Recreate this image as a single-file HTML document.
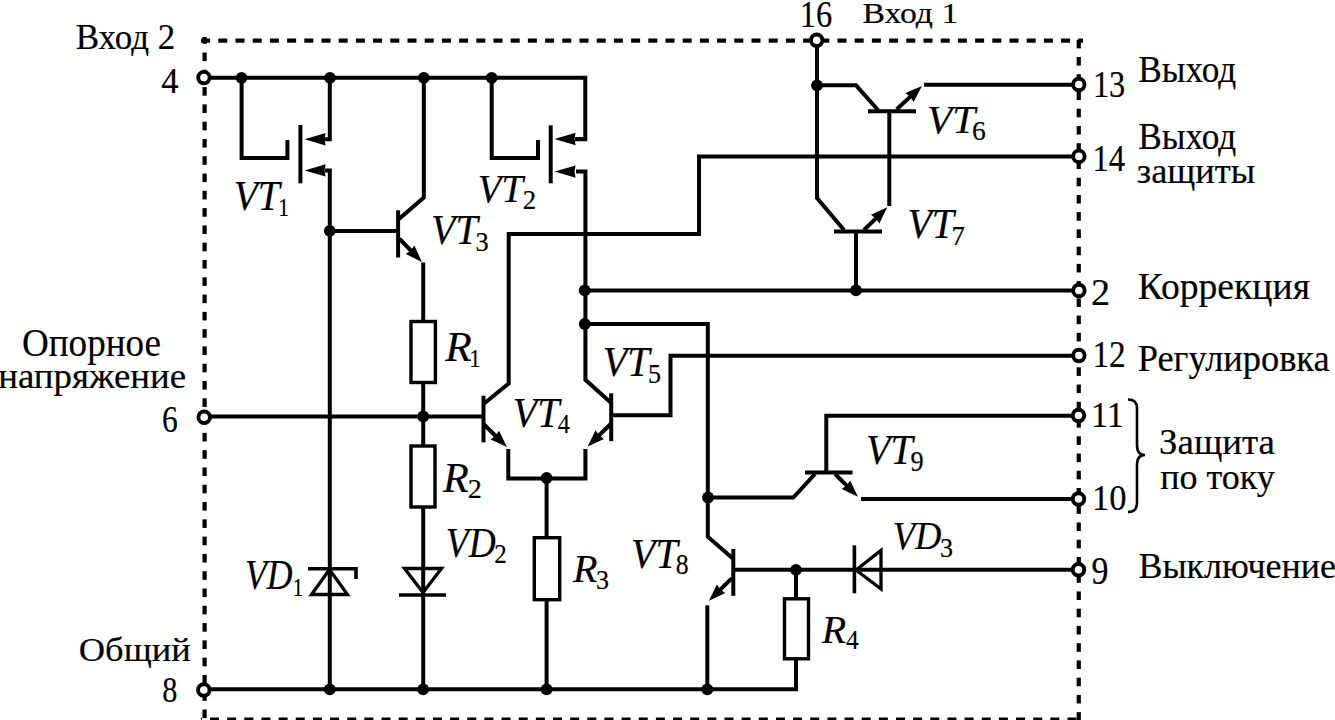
<!DOCTYPE html><html><head><meta charset="utf-8"><style>html,body{margin:0;padding:0;background:#fff;}svg{display:block;}text{font-family:"Liberation Serif",serif;fill:#000;stroke:#000;stroke-width:0.2px;}</style></head><body>
<svg width="1335" height="720" viewBox="0 0 1335 720">
<rect width="1335" height="720" fill="#fff"/>
<rect x="201.10" y="38.50" width="9.00" height="4.2" fill="#000"/>
<rect x="218.30" y="38.50" width="9.00" height="4.2" fill="#000"/>
<rect x="235.50" y="38.50" width="9.00" height="4.2" fill="#000"/>
<rect x="252.70" y="38.50" width="9.00" height="4.2" fill="#000"/>
<rect x="269.90" y="38.50" width="9.00" height="4.2" fill="#000"/>
<rect x="287.10" y="38.50" width="9.00" height="4.2" fill="#000"/>
<rect x="304.30" y="38.50" width="9.00" height="4.2" fill="#000"/>
<rect x="321.50" y="38.50" width="9.00" height="4.2" fill="#000"/>
<rect x="338.70" y="38.50" width="9.00" height="4.2" fill="#000"/>
<rect x="355.90" y="38.50" width="9.00" height="4.2" fill="#000"/>
<rect x="373.10" y="38.50" width="9.00" height="4.2" fill="#000"/>
<rect x="390.30" y="38.50" width="9.00" height="4.2" fill="#000"/>
<rect x="407.50" y="38.50" width="9.00" height="4.2" fill="#000"/>
<rect x="424.70" y="38.50" width="9.00" height="4.2" fill="#000"/>
<rect x="441.90" y="38.50" width="9.00" height="4.2" fill="#000"/>
<rect x="459.10" y="38.50" width="9.00" height="4.2" fill="#000"/>
<rect x="476.30" y="38.50" width="9.00" height="4.2" fill="#000"/>
<rect x="493.50" y="38.50" width="9.00" height="4.2" fill="#000"/>
<rect x="510.70" y="38.50" width="9.00" height="4.2" fill="#000"/>
<rect x="527.90" y="38.50" width="9.00" height="4.2" fill="#000"/>
<rect x="545.10" y="38.50" width="9.00" height="4.2" fill="#000"/>
<rect x="562.30" y="38.50" width="9.00" height="4.2" fill="#000"/>
<rect x="579.50" y="38.50" width="9.00" height="4.2" fill="#000"/>
<rect x="596.70" y="38.50" width="9.00" height="4.2" fill="#000"/>
<rect x="613.90" y="38.50" width="9.00" height="4.2" fill="#000"/>
<rect x="631.10" y="38.50" width="9.00" height="4.2" fill="#000"/>
<rect x="648.30" y="38.50" width="9.00" height="4.2" fill="#000"/>
<rect x="665.50" y="38.50" width="9.00" height="4.2" fill="#000"/>
<rect x="682.70" y="38.50" width="9.00" height="4.2" fill="#000"/>
<rect x="699.90" y="38.50" width="9.00" height="4.2" fill="#000"/>
<rect x="717.10" y="38.50" width="9.00" height="4.2" fill="#000"/>
<rect x="734.30" y="38.50" width="9.00" height="4.2" fill="#000"/>
<rect x="751.50" y="38.50" width="9.00" height="4.2" fill="#000"/>
<rect x="768.70" y="38.50" width="9.00" height="4.2" fill="#000"/>
<rect x="785.90" y="38.50" width="9.00" height="4.2" fill="#000"/>
<rect x="803.10" y="38.50" width="9.00" height="4.2" fill="#000"/>
<rect x="820.30" y="38.50" width="9.00" height="4.2" fill="#000"/>
<rect x="837.50" y="38.50" width="9.00" height="4.2" fill="#000"/>
<rect x="854.70" y="38.50" width="9.00" height="4.2" fill="#000"/>
<rect x="871.90" y="38.50" width="9.00" height="4.2" fill="#000"/>
<rect x="889.10" y="38.50" width="9.00" height="4.2" fill="#000"/>
<rect x="906.30" y="38.50" width="9.00" height="4.2" fill="#000"/>
<rect x="923.50" y="38.50" width="9.00" height="4.2" fill="#000"/>
<rect x="940.70" y="38.50" width="9.00" height="4.2" fill="#000"/>
<rect x="957.90" y="38.50" width="9.00" height="4.2" fill="#000"/>
<rect x="975.10" y="38.50" width="9.00" height="4.2" fill="#000"/>
<rect x="992.30" y="38.50" width="9.00" height="4.2" fill="#000"/>
<rect x="1009.50" y="38.50" width="9.00" height="4.2" fill="#000"/>
<rect x="1026.70" y="38.50" width="9.00" height="4.2" fill="#000"/>
<rect x="1043.90" y="38.50" width="9.00" height="4.2" fill="#000"/>
<rect x="1061.10" y="38.50" width="9.00" height="4.2" fill="#000"/>
<rect x="1078.30" y="38.50" width="4.70" height="4.2" fill="#000"/>
<rect x="201.00" y="717.50" width="0.85" height="4.2" fill="#000"/>
<rect x="210.00" y="717.50" width="9.00" height="4.2" fill="#000"/>
<rect x="227.15" y="717.50" width="9.00" height="4.2" fill="#000"/>
<rect x="244.30" y="717.50" width="9.00" height="4.2" fill="#000"/>
<rect x="261.45" y="717.50" width="9.00" height="4.2" fill="#000"/>
<rect x="278.60" y="717.50" width="9.00" height="4.2" fill="#000"/>
<rect x="295.75" y="717.50" width="9.00" height="4.2" fill="#000"/>
<rect x="312.90" y="717.50" width="9.00" height="4.2" fill="#000"/>
<rect x="330.05" y="717.50" width="9.00" height="4.2" fill="#000"/>
<rect x="347.20" y="717.50" width="9.00" height="4.2" fill="#000"/>
<rect x="364.35" y="717.50" width="9.00" height="4.2" fill="#000"/>
<rect x="381.50" y="717.50" width="9.00" height="4.2" fill="#000"/>
<rect x="398.65" y="717.50" width="9.00" height="4.2" fill="#000"/>
<rect x="415.80" y="717.50" width="9.00" height="4.2" fill="#000"/>
<rect x="432.95" y="717.50" width="9.00" height="4.2" fill="#000"/>
<rect x="450.10" y="717.50" width="9.00" height="4.2" fill="#000"/>
<rect x="467.25" y="717.50" width="9.00" height="4.2" fill="#000"/>
<rect x="484.40" y="717.50" width="9.00" height="4.2" fill="#000"/>
<rect x="501.55" y="717.50" width="9.00" height="4.2" fill="#000"/>
<rect x="518.70" y="717.50" width="9.00" height="4.2" fill="#000"/>
<rect x="535.85" y="717.50" width="9.00" height="4.2" fill="#000"/>
<rect x="553.00" y="717.50" width="9.00" height="4.2" fill="#000"/>
<rect x="570.15" y="717.50" width="9.00" height="4.2" fill="#000"/>
<rect x="587.30" y="717.50" width="9.00" height="4.2" fill="#000"/>
<rect x="604.45" y="717.50" width="9.00" height="4.2" fill="#000"/>
<rect x="621.60" y="717.50" width="9.00" height="4.2" fill="#000"/>
<rect x="638.75" y="717.50" width="9.00" height="4.2" fill="#000"/>
<rect x="655.90" y="717.50" width="9.00" height="4.2" fill="#000"/>
<rect x="673.05" y="717.50" width="9.00" height="4.2" fill="#000"/>
<rect x="690.20" y="717.50" width="9.00" height="4.2" fill="#000"/>
<rect x="707.35" y="717.50" width="9.00" height="4.2" fill="#000"/>
<rect x="724.50" y="717.50" width="9.00" height="4.2" fill="#000"/>
<rect x="741.65" y="717.50" width="9.00" height="4.2" fill="#000"/>
<rect x="758.80" y="717.50" width="9.00" height="4.2" fill="#000"/>
<rect x="775.95" y="717.50" width="9.00" height="4.2" fill="#000"/>
<rect x="793.10" y="717.50" width="9.00" height="4.2" fill="#000"/>
<rect x="810.25" y="717.50" width="9.00" height="4.2" fill="#000"/>
<rect x="827.40" y="717.50" width="9.00" height="4.2" fill="#000"/>
<rect x="844.55" y="717.50" width="9.00" height="4.2" fill="#000"/>
<rect x="861.70" y="717.50" width="9.00" height="4.2" fill="#000"/>
<rect x="878.85" y="717.50" width="9.00" height="4.2" fill="#000"/>
<rect x="896.00" y="717.50" width="9.00" height="4.2" fill="#000"/>
<rect x="913.15" y="717.50" width="9.00" height="4.2" fill="#000"/>
<rect x="930.30" y="717.50" width="9.00" height="4.2" fill="#000"/>
<rect x="947.45" y="717.50" width="9.00" height="4.2" fill="#000"/>
<rect x="964.60" y="717.50" width="9.00" height="4.2" fill="#000"/>
<rect x="981.75" y="717.50" width="9.00" height="4.2" fill="#000"/>
<rect x="998.90" y="717.50" width="9.00" height="4.2" fill="#000"/>
<rect x="1016.05" y="717.50" width="9.00" height="4.2" fill="#000"/>
<rect x="1033.20" y="717.50" width="9.00" height="4.2" fill="#000"/>
<rect x="1050.35" y="717.50" width="9.00" height="4.2" fill="#000"/>
<rect x="1067.50" y="717.50" width="9.00" height="4.2" fill="#000"/>
<rect x="202.50" y="37.00" width="4.2" height="6.81" fill="#000"/>
<rect x="202.50" y="52.50" width="4.2" height="8.60" fill="#000"/>
<rect x="202.50" y="69.79" width="4.2" height="8.60" fill="#000"/>
<rect x="202.50" y="87.08" width="4.2" height="8.60" fill="#000"/>
<rect x="202.50" y="104.37" width="4.2" height="8.60" fill="#000"/>
<rect x="202.50" y="121.66" width="4.2" height="8.60" fill="#000"/>
<rect x="202.50" y="138.95" width="4.2" height="8.60" fill="#000"/>
<rect x="202.50" y="156.24" width="4.2" height="8.60" fill="#000"/>
<rect x="202.50" y="173.53" width="4.2" height="8.60" fill="#000"/>
<rect x="202.50" y="190.82" width="4.2" height="8.60" fill="#000"/>
<rect x="202.50" y="208.11" width="4.2" height="8.60" fill="#000"/>
<rect x="202.50" y="225.40" width="4.2" height="8.60" fill="#000"/>
<rect x="202.50" y="242.69" width="4.2" height="8.60" fill="#000"/>
<rect x="202.50" y="259.98" width="4.2" height="8.60" fill="#000"/>
<rect x="202.50" y="277.27" width="4.2" height="8.60" fill="#000"/>
<rect x="202.50" y="294.56" width="4.2" height="8.60" fill="#000"/>
<rect x="202.50" y="311.85" width="4.2" height="8.60" fill="#000"/>
<rect x="202.50" y="329.14" width="4.2" height="8.60" fill="#000"/>
<rect x="202.50" y="346.43" width="4.2" height="8.60" fill="#000"/>
<rect x="202.50" y="363.72" width="4.2" height="8.60" fill="#000"/>
<rect x="202.50" y="381.01" width="4.2" height="8.60" fill="#000"/>
<rect x="202.50" y="398.30" width="4.2" height="8.60" fill="#000"/>
<rect x="202.50" y="415.59" width="4.2" height="8.60" fill="#000"/>
<rect x="202.50" y="432.88" width="4.2" height="8.60" fill="#000"/>
<rect x="202.50" y="450.17" width="4.2" height="8.60" fill="#000"/>
<rect x="202.50" y="467.46" width="4.2" height="8.60" fill="#000"/>
<rect x="202.50" y="484.75" width="4.2" height="8.60" fill="#000"/>
<rect x="202.50" y="502.04" width="4.2" height="8.60" fill="#000"/>
<rect x="202.50" y="519.33" width="4.2" height="8.60" fill="#000"/>
<rect x="202.50" y="536.62" width="4.2" height="8.60" fill="#000"/>
<rect x="202.50" y="553.91" width="4.2" height="8.60" fill="#000"/>
<rect x="202.50" y="571.20" width="4.2" height="8.60" fill="#000"/>
<rect x="202.50" y="588.49" width="4.2" height="8.60" fill="#000"/>
<rect x="202.50" y="605.78" width="4.2" height="8.60" fill="#000"/>
<rect x="202.50" y="623.07" width="4.2" height="8.60" fill="#000"/>
<rect x="202.50" y="640.36" width="4.2" height="8.60" fill="#000"/>
<rect x="202.50" y="657.65" width="4.2" height="8.60" fill="#000"/>
<rect x="202.50" y="674.94" width="4.2" height="8.60" fill="#000"/>
<rect x="202.50" y="692.23" width="4.2" height="8.60" fill="#000"/>
<rect x="202.50" y="709.52" width="4.2" height="8.60" fill="#000"/>
<rect x="1076.65" y="39.76" width="4.2" height="8.60" fill="#000"/>
<rect x="1076.65" y="57.00" width="4.2" height="8.60" fill="#000"/>
<rect x="1076.65" y="74.24" width="4.2" height="8.60" fill="#000"/>
<rect x="1076.65" y="91.48" width="4.2" height="8.60" fill="#000"/>
<rect x="1076.65" y="108.72" width="4.2" height="8.60" fill="#000"/>
<rect x="1076.65" y="125.96" width="4.2" height="8.60" fill="#000"/>
<rect x="1076.65" y="143.20" width="4.2" height="8.60" fill="#000"/>
<rect x="1076.65" y="160.44" width="4.2" height="8.60" fill="#000"/>
<rect x="1076.65" y="177.68" width="4.2" height="8.60" fill="#000"/>
<rect x="1076.65" y="194.92" width="4.2" height="8.60" fill="#000"/>
<rect x="1076.65" y="212.16" width="4.2" height="8.60" fill="#000"/>
<rect x="1076.65" y="229.40" width="4.2" height="8.60" fill="#000"/>
<rect x="1076.65" y="246.64" width="4.2" height="8.60" fill="#000"/>
<rect x="1076.65" y="263.88" width="4.2" height="8.60" fill="#000"/>
<rect x="1076.65" y="281.12" width="4.2" height="8.60" fill="#000"/>
<rect x="1076.65" y="298.36" width="4.2" height="8.60" fill="#000"/>
<rect x="1076.65" y="315.60" width="4.2" height="8.60" fill="#000"/>
<rect x="1076.65" y="332.84" width="4.2" height="8.60" fill="#000"/>
<rect x="1076.65" y="350.08" width="4.2" height="8.60" fill="#000"/>
<rect x="1076.65" y="367.32" width="4.2" height="8.60" fill="#000"/>
<rect x="1076.65" y="384.56" width="4.2" height="8.60" fill="#000"/>
<rect x="1076.65" y="401.80" width="4.2" height="8.60" fill="#000"/>
<rect x="1076.65" y="419.04" width="4.2" height="8.60" fill="#000"/>
<rect x="1076.65" y="436.28" width="4.2" height="8.60" fill="#000"/>
<rect x="1076.65" y="453.52" width="4.2" height="8.60" fill="#000"/>
<rect x="1076.65" y="470.76" width="4.2" height="8.60" fill="#000"/>
<rect x="1076.65" y="488.00" width="4.2" height="8.60" fill="#000"/>
<rect x="1076.65" y="505.24" width="4.2" height="8.60" fill="#000"/>
<rect x="1076.65" y="522.48" width="4.2" height="8.60" fill="#000"/>
<rect x="1076.65" y="539.72" width="4.2" height="8.60" fill="#000"/>
<rect x="1076.65" y="556.96" width="4.2" height="8.60" fill="#000"/>
<rect x="1076.65" y="574.20" width="4.2" height="8.60" fill="#000"/>
<rect x="1076.65" y="591.44" width="4.2" height="8.60" fill="#000"/>
<rect x="1076.65" y="608.68" width="4.2" height="8.60" fill="#000"/>
<rect x="1076.65" y="625.92" width="4.2" height="8.60" fill="#000"/>
<rect x="1076.65" y="643.16" width="4.2" height="8.60" fill="#000"/>
<rect x="1076.65" y="660.40" width="4.2" height="8.60" fill="#000"/>
<rect x="1076.65" y="677.64" width="4.2" height="8.60" fill="#000"/>
<rect x="1076.65" y="694.88" width="4.2" height="8.60" fill="#000"/>
<rect x="1076.65" y="712.12" width="4.2" height="8.60" fill="#000"/>
<rect x="202.29999999999998" y="38.300000000000004" width="4.6" height="4.6" fill="#000"/>
<path d="M204,77.8 H585.3 V139.2 H575" fill="none" stroke="#000" stroke-width="4.0" stroke-linejoin="miter" stroke-linecap="butt"/>
<path d="M241.6,77.8 V158 H287.4 V140" fill="none" stroke="#000" stroke-width="4.0" stroke-linejoin="miter" stroke-linecap="butt"/>
<path d="M329.8,77.8 V139.2 H324" fill="none" stroke="#000" stroke-width="4.0" stroke-linejoin="miter" stroke-linecap="butt"/>
<line x1="300.4" y1="125" x2="300.4" y2="183.3" stroke="#000" stroke-width="4.0" stroke-linecap="butt"/>
<path d="M304.60,139.20 L325.60,133.00 L324.55,139.20 L325.60,145.40 Z" fill="#000"/>
<path d="M325,170.4 H329.8 V689.3" fill="none" stroke="#000" stroke-width="4.0" stroke-linejoin="miter" stroke-linecap="butt"/>
<path d="M304.60,170.40 L325.60,164.20 L324.55,170.40 L325.60,176.60 Z" fill="#000"/>
<path d="M491.7,77.8 V158 H538 V140" fill="none" stroke="#000" stroke-width="4.0" stroke-linejoin="miter" stroke-linecap="butt"/>
<line x1="550.7" y1="125.3" x2="550.7" y2="183.3" stroke="#000" stroke-width="4.0" stroke-linecap="butt"/>
<path d="M576,139 H585.3" fill="none" stroke="#000" stroke-width="4.0" stroke-linejoin="miter" stroke-linecap="butt"/>
<path d="M554.60,139.00 L575.60,132.80 L574.55,139.00 L575.60,145.20 Z" fill="#000"/>
<path d="M576,171.6 H585.4 V379.8 L611.2,403" fill="none" stroke="#000" stroke-width="4.0" stroke-linejoin="miter" stroke-linecap="butt"/>
<path d="M554.60,171.60 L575.60,165.40 L574.55,171.60 L575.60,177.80 Z" fill="#000"/>
<path d="M329.8,230.9 H398.1" fill="none" stroke="#000" stroke-width="4.0" stroke-linejoin="miter" stroke-linecap="butt"/>
<line x1="398.1" y1="210.3" x2="398.1" y2="257.5" stroke="#000" stroke-width="4.0" stroke-linecap="butt"/>
<path d="M398.1,219.7 L423.8,197.5 V77.8" fill="none" stroke="#000" stroke-width="4.0" stroke-linejoin="miter" stroke-linecap="butt"/>
<path d="M399.4,238.75 L415.63,255.45" fill="none" stroke="#000" stroke-width="4.0" stroke-linejoin="miter" stroke-linecap="butt"/>
<path d="M421.90,261.90 L405.75,253.89 L410.76,250.44 L414.35,245.53 Z" fill="#000"/>
<path d="M423.2,262.5 V689.3" fill="none" stroke="#000" stroke-width="4.0" stroke-linejoin="miter" stroke-linecap="butt"/>
<rect x="411" y="321.5" width="24.399999999999977" height="61.0" fill="#fff" stroke="#000" stroke-width="3.4"/>
<rect x="411" y="446" width="24" height="61" fill="#fff" stroke="#000" stroke-width="3.4"/>
<polygon points="404.5,568.5 441.5,568.5 423,592.5" fill="none" stroke="#000" stroke-width="3.3" stroke-linejoin="miter"/>
<line x1="399" y1="595" x2="446" y2="595" stroke="#000" stroke-width="3.6" stroke-linecap="butt"/>
<path d="M204,416.5 H483.5" fill="none" stroke="#000" stroke-width="4.0" stroke-linejoin="miter" stroke-linecap="butt"/>
<line x1="483.5" y1="395.7" x2="483.5" y2="442.3" stroke="#000" stroke-width="4.0" stroke-linecap="butt"/>
<path d="M483.5,404 L508.7,383.5 V234 H699 V156.4 H1079" fill="none" stroke="#000" stroke-width="4.0" stroke-linejoin="miter" stroke-linecap="butt"/>
<path d="M483.5,424 L500.57,440.70" fill="none" stroke="#000" stroke-width="4.0" stroke-linejoin="miter" stroke-linecap="butt"/>
<path d="M507.00,447.00 L490.65,439.40 L495.58,435.82 L499.05,430.82 Z" fill="#000"/>
<path d="M508.3,449 V478.5 H585.4 V449" fill="none" stroke="#000" stroke-width="4.0" stroke-linejoin="miter" stroke-linecap="butt"/>
<line x1="611.2" y1="393.3" x2="611.2" y2="441.2" stroke="#000" stroke-width="4.0" stroke-linecap="butt"/>
<path d="M611.2,423.5 L594.05,440.22" fill="none" stroke="#000" stroke-width="4.0" stroke-linejoin="miter" stroke-linecap="butt"/>
<path d="M587.60,446.50 L595.59,430.34 L599.04,435.35 L603.96,438.93 Z" fill="#000"/>
<path d="M611.2,415.3 H670.5 V355.8 H1079" fill="none" stroke="#000" stroke-width="4.0" stroke-linejoin="miter" stroke-linecap="butt"/>
<path d="M546.6,478 V689.3" fill="none" stroke="#000" stroke-width="4.0" stroke-linejoin="miter" stroke-linecap="butt"/>
<rect x="534.3" y="537.7" width="25.40000000000009" height="62.0" fill="#fff" stroke="#000" stroke-width="3.4"/>
<path d="M584.75,290.4 H1079" fill="none" stroke="#000" stroke-width="4.0" stroke-linejoin="miter" stroke-linecap="butt"/>
<path d="M584.75,324 H707.8 V536.7 L732.5,558.3" fill="none" stroke="#000" stroke-width="4.0" stroke-linejoin="miter" stroke-linecap="butt"/>
<path d="M856,290.4 V231.6" fill="none" stroke="#000" stroke-width="4.0" stroke-linejoin="miter" stroke-linecap="butt"/>
<line x1="834" y1="231.6" x2="882" y2="231.6" stroke="#000" stroke-width="4.0" stroke-linecap="butt"/>
<path d="M844,230 L817,198 V40" fill="none" stroke="#000" stroke-width="4.0" stroke-linejoin="miter" stroke-linecap="butt"/>
<path d="M864,230 L880.85,213.58" fill="none" stroke="#000" stroke-width="4.0" stroke-linejoin="miter" stroke-linecap="butt"/>
<path d="M887.30,207.30 L879.31,223.46 L875.85,218.45 L870.94,214.87 Z" fill="#000"/>
<path d="M889.3,206 V111.3" fill="none" stroke="#000" stroke-width="4.0" stroke-linejoin="miter" stroke-linecap="butt"/>
<path d="M817,85.3 H856 L878,110" fill="none" stroke="#000" stroke-width="4.0" stroke-linejoin="miter" stroke-linecap="butt"/>
<line x1="868" y1="111.3" x2="916" y2="111.3" stroke="#000" stroke-width="4.0" stroke-linecap="butt"/>
<path d="M896.7,109.3 L915.38,92.10" fill="none" stroke="#000" stroke-width="4.0" stroke-linejoin="miter" stroke-linecap="butt"/>
<path d="M922.00,86.00 L913.56,101.93 L910.25,96.83 L905.43,93.10 Z" fill="#000"/>
<path d="M924,84.8 H1079" fill="none" stroke="#000" stroke-width="4.0" stroke-linejoin="miter" stroke-linecap="butt"/>
<path d="M708,497.5 H793.3 L815,474" fill="none" stroke="#000" stroke-width="4.0" stroke-linejoin="miter" stroke-linecap="butt"/>
<line x1="805" y1="472.5" x2="852.5" y2="472.5" stroke="#000" stroke-width="4.0" stroke-linecap="butt"/>
<path d="M826.3,472.5 V415.8 H1079" fill="none" stroke="#000" stroke-width="4.0" stroke-linejoin="miter" stroke-linecap="butt"/>
<path d="M835,474 L851.59,490.38" fill="none" stroke="#000" stroke-width="4.0" stroke-linejoin="miter" stroke-linecap="butt"/>
<path d="M858.00,496.70 L841.69,489.03 L846.63,485.47 L850.12,480.49 Z" fill="#000"/>
<path d="M861,499 H1079" fill="none" stroke="#000" stroke-width="4.0" stroke-linejoin="miter" stroke-linecap="butt"/>
<line x1="733.3" y1="549" x2="733.3" y2="595.8" stroke="#000" stroke-width="4.0" stroke-linecap="butt"/>
<path d="M733.3,569.8 H1079" fill="none" stroke="#000" stroke-width="4.0" stroke-linejoin="miter" stroke-linecap="butt"/>
<path d="M731.7,578.3 L715.39,594.46" fill="none" stroke="#000" stroke-width="4.0" stroke-linejoin="miter" stroke-linecap="butt"/>
<path d="M709.00,600.80 L716.85,584.57 L720.35,589.55 L725.30,593.09 Z" fill="#000"/>
<path d="M707.3,605.3 V689.3" fill="none" stroke="#000" stroke-width="4.0" stroke-linejoin="miter" stroke-linecap="butt"/>
<path d="M796,569.8 V689.3 H204" fill="none" stroke="#000" stroke-width="4.0" stroke-linejoin="miter" stroke-linecap="butt"/>
<rect x="784.5" y="598.8" width="24.0" height="60.0" fill="#fff" stroke="#000" stroke-width="3.4"/>
<line x1="854.4" y1="545.3" x2="854.4" y2="593.3" stroke="#000" stroke-width="3.6" stroke-linecap="butt"/>
<polygon points="856,570 881,550.5 881,589" fill="none" stroke="#000" stroke-width="3.3" stroke-linejoin="miter"/>
<polygon points="329.5,569.5 311.5,594.5 347.5,594.5" fill="none" stroke="#000" stroke-width="3.3" stroke-linejoin="miter"/>
<path d="M308,568.8 H356 V579" fill="none" stroke="#000" stroke-width="3.6" stroke-linejoin="miter" stroke-linecap="butt"/>
<circle cx="241.6" cy="77.8" r="5.9" fill="#000"/>
<circle cx="330" cy="77.8" r="5.9" fill="#000"/>
<circle cx="423.8" cy="77.8" r="5.9" fill="#000"/>
<circle cx="491.7" cy="77.8" r="5.9" fill="#000"/>
<circle cx="329.8" cy="230.9" r="5.9" fill="#000"/>
<circle cx="423.2" cy="416.5" r="5.9" fill="#000"/>
<circle cx="546.6" cy="478" r="5.9" fill="#000"/>
<circle cx="584.75" cy="290.4" r="5.9" fill="#000"/>
<circle cx="584.75" cy="324" r="5.9" fill="#000"/>
<circle cx="856" cy="290.4" r="5.9" fill="#000"/>
<circle cx="817" cy="85.3" r="5.9" fill="#000"/>
<circle cx="708" cy="497.5" r="5.9" fill="#000"/>
<circle cx="796" cy="569.8" r="5.9" fill="#000"/>
<circle cx="329.8" cy="689.3" r="5.9" fill="#000"/>
<circle cx="423.2" cy="689.3" r="5.9" fill="#000"/>
<circle cx="546.6" cy="689.3" r="5.9" fill="#000"/>
<circle cx="707.3" cy="689.3" r="5.9" fill="#000"/>
<circle cx="203.9" cy="77.6" r="5.75" fill="#fff" stroke="#000" stroke-width="3.9"/>
<circle cx="204.2" cy="417.2" r="5.75" fill="#fff" stroke="#000" stroke-width="3.9"/>
<circle cx="203.8" cy="690" r="5.75" fill="#fff" stroke="#000" stroke-width="3.9"/>
<circle cx="816.7" cy="40.3" r="5.75" fill="#fff" stroke="#000" stroke-width="3.9"/>
<circle cx="1078.8" cy="84.5" r="5.75" fill="#fff" stroke="#000" stroke-width="3.9"/>
<circle cx="1078.9" cy="156.4" r="5.75" fill="#fff" stroke="#000" stroke-width="3.9"/>
<circle cx="1078.9" cy="290.5" r="5.75" fill="#fff" stroke="#000" stroke-width="3.9"/>
<circle cx="1078.9" cy="355.5" r="5.75" fill="#fff" stroke="#000" stroke-width="3.9"/>
<circle cx="1078.5" cy="415.5" r="5.75" fill="#fff" stroke="#000" stroke-width="3.9"/>
<circle cx="1078.5" cy="499" r="5.75" fill="#fff" stroke="#000" stroke-width="3.9"/>
<circle cx="1078.5" cy="569.8" r="5.75" fill="#fff" stroke="#000" stroke-width="3.9"/>
<path d="M1128,399.5 Q1137,399.5 1137,408 V445 Q1137,455 1145,455 Q1137,455 1137,465 V503 Q1137,512 1128,512" fill="none" stroke="#000" stroke-width="2.6" stroke-linejoin="miter" stroke-linecap="butt"/>
<text transform="translate(75.75,49.40) scale(0.9615,1)" font-size="36.36" style="">Вход 2</text>
<text transform="translate(161.21,92.50) scale(0.9766,1)" font-size="35.45" style="">4</text>
<text transform="translate(799.79,27.00) scale(0.8619,1)" font-size="37.58" style="">16</text>
<text transform="translate(862.39,22.50) scale(1.1838,1)" font-size="28.48" style="">Вход 1</text>
<text transform="translate(1092.88,96.50) scale(0.8626,1)" font-size="37.58" style="">13</text>
<text transform="translate(1138.34,81.50) scale(0.9486,1)" font-size="37.10" style="">Выход</text>
<text transform="translate(1092.47,170.60) scale(0.8795,1)" font-size="36.97" style="">14</text>
<text transform="translate(1138.34,149.40) scale(0.9535,1)" font-size="36.95" style="">Выход</text>
<text transform="translate(1136.81,183.40) scale(0.9882,1)" font-size="36.81" style="">защиты</text>
<text transform="translate(1090.88,304.90) scale(1.0098,1)" font-size="37.88" style="">2</text>
<text transform="translate(1137.67,299.10) scale(1.0109,1)" font-size="37.25" style="">Коррекция</text>
<text transform="translate(1092.40,367.40) scale(0.8800,1)" font-size="37.88" style="">12</text>
<text transform="translate(1137.71,371.10) scale(0.9773,1)" font-size="37.25" style="">Регулировка</text>
<text transform="translate(1090.91,427.00) scale(0.9448,1)" font-size="36.36" style="">11</text>
<text transform="translate(1091.90,510.00) scale(0.9476,1)" font-size="36.39" style="">10</text>
<text transform="translate(1159.06,454.20) scale(1.0220,1)" font-size="36.09" style="">Защита</text>
<text transform="translate(1160.18,488.50) scale(0.9896,1)" font-size="36.38" style="">по току</text>
<text transform="translate(1091.48,583.75) scale(0.8537,1)" font-size="39.77" style="">9</text>
<text transform="translate(1138.42,577.70) scale(0.9901,1)" font-size="36.34" style="">Выключение</text>
<text transform="translate(22.02,355.50) scale(0.9372,1)" font-size="39.55" style="">Опорное</text>
<text transform="translate(-1.74,388.20) scale(1.0314,1)" font-size="35.74" style="">напряжение</text>
<text transform="translate(161.88,431.70) scale(0.8324,1)" font-size="37.88" style="">6</text>
<text transform="translate(78.74,661.00) scale(1.0558,1)" font-size="34.55" style="">Общий</text>
<text transform="translate(162.19,702.40) scale(0.8667,1)" font-size="34.89" style="">8</text>
<text transform="translate(233.63,209.60) scale(0.9544,1)" font-size="41.37" style="font-style:italic;">VT</text>
<text transform="translate(278.27,216.25) scale(0.8500,1)" font-size="25.23" style="">1</text>
<text transform="translate(477.87,202.00) scale(0.9754,1)" font-size="39.69" style="font-style:italic;">VT</text>
<text transform="translate(522.80,209.30) scale(0.9808,1)" font-size="27.27" style="">2</text>
<text transform="translate(431.10,244.20) scale(0.9612,1)" font-size="41.53" style="font-style:italic;">VT</text>
<text transform="translate(475.38,250.80) scale(0.9500,1)" font-size="27.73" style="">3</text>
<text transform="translate(512.80,426.70) scale(0.9647,1)" font-size="41.37" style="font-style:italic;">VT</text>
<text transform="translate(557.81,433.30) scale(0.8764,1)" font-size="27.73" style="">4</text>
<text transform="translate(602.79,375.80) scale(0.9568,1)" font-size="41.98" style="font-style:italic;">VT</text>
<text transform="translate(648.04,382.90) scale(0.9306,1)" font-size="27.94" style="">5</text>
<text transform="translate(926.93,133.30) scale(1.0165,1)" font-size="40.61" style="font-style:italic;">VT</text>
<text transform="translate(972.06,140.40) scale(0.9875,1)" font-size="27.88" style="">6</text>
<text transform="translate(907.41,237.90) scale(0.9637,1)" font-size="41.37" style="font-style:italic;">VT</text>
<text transform="translate(951.55,245.40) scale(0.9848,1)" font-size="27.33" style="">7</text>
<text transform="translate(631.10,567.90) scale(0.9507,1)" font-size="41.98" style="font-style:italic;">VT</text>
<text transform="translate(675.67,573.75) scale(0.8930,1)" font-size="28.80" style="">8</text>
<text transform="translate(866.10,463.75) scale(0.9665,1)" font-size="41.30" style="font-style:italic;">VT</text>
<text transform="translate(910.47,470.80) scale(0.9185,1)" font-size="28.48" style="">9</text>
<text transform="translate(445.22,361.00) scale(1.0137,1)" font-size="42.75" style="font-style:italic;">R</text>
<text transform="translate(469.53,367.00) scale(0.8500,1)" font-size="25.76" style="">1</text>
<text transform="translate(443.01,491.90) scale(1.0154,1)" font-size="41.53" style="font-style:italic;">R</text>
<text transform="translate(467.73,498.40) scale(1.0475,1)" font-size="26.97" style="">2</text>
<text transform="translate(572.90,582.00) scale(0.9813,1)" font-size="40.76" style="font-style:italic;">R</text>
<text transform="translate(596.00,588.70) scale(0.9211,1)" font-size="28.33" style="">3</text>
<text transform="translate(821.80,642.80) scale(0.9962,1)" font-size="40.15" style="font-style:italic;">R</text>
<text transform="translate(846.09,649.40) scale(0.9102,1)" font-size="27.88" style="">4</text>
<text transform="translate(245.04,589.00) scale(0.8664,1)" font-size="41.22" style="font-style:italic;">VD</text>
<text transform="translate(292.65,596.00) scale(0.8500,1)" font-size="24.24" style="">1</text>
<text transform="translate(445.84,557.10) scale(0.9035,1)" font-size="41.37" style="font-style:italic;">VD</text>
<text transform="translate(494.27,563.30) scale(0.9429,1)" font-size="26.52" style="">2</text>
<text transform="translate(892.69,549.30) scale(0.8990,1)" font-size="40.61" style="font-style:italic;">VD</text>
<text transform="translate(940.00,556.70) scale(0.9569,1)" font-size="27.27" style="">3</text>
</svg></body></html>
